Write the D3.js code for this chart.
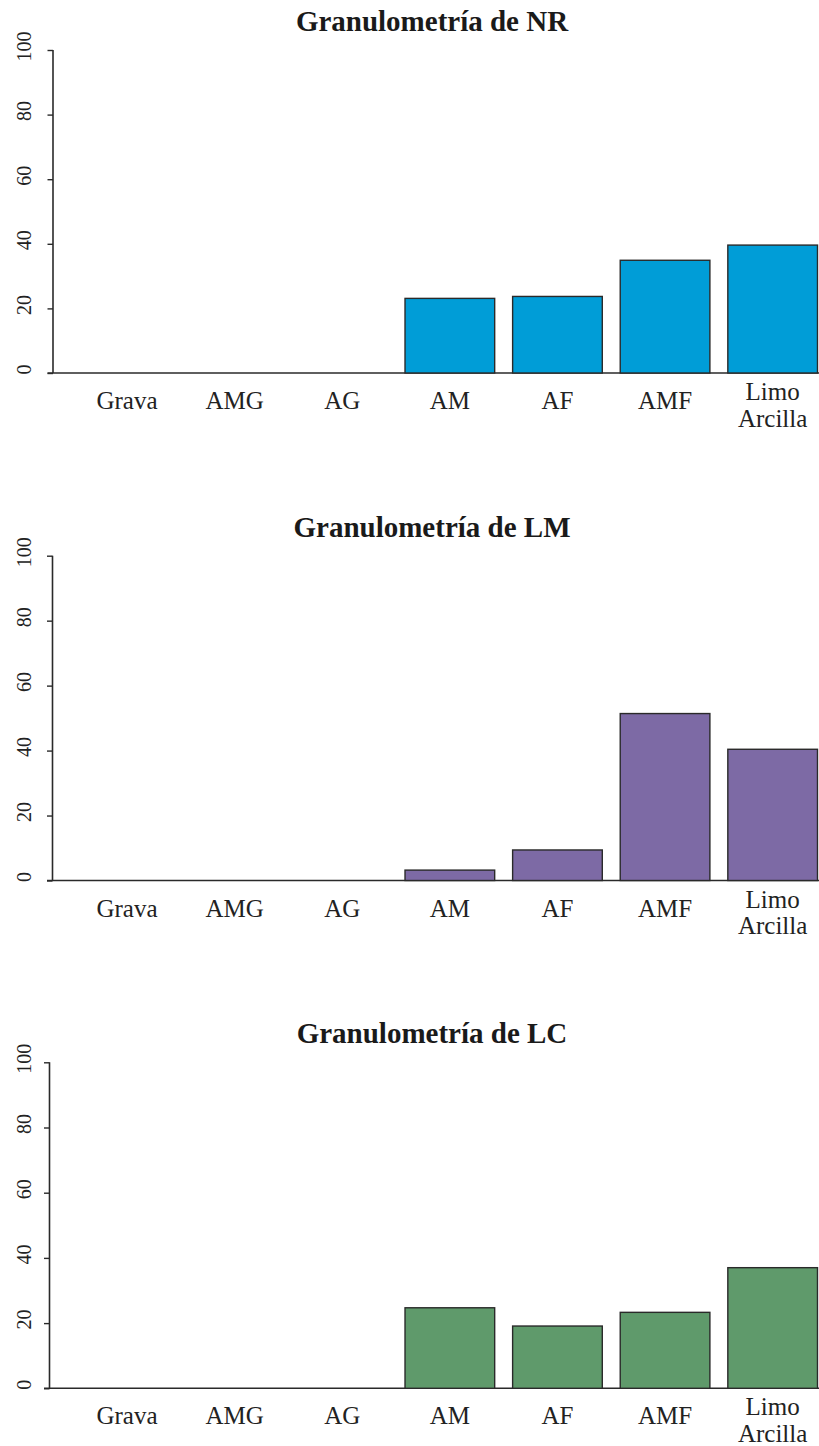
<!DOCTYPE html>
<html>
<head>
<meta charset="utf-8">
<script src="https://cdn.jsdelivr.net/npm/d3@7/dist/d3.min.js"></script>
<style>
  html, body { margin: 0; padding: 0; background: #ffffff; }
  svg { display: block; }
</style>
</head>
<body>
<svg id="chart" width="819" height="1446"></svg>
<script>
// Grain-size classes (two-line label for the last class)
const categories = ["Grava", "AMG", "AG", "AM", "AF", "AMF", "Limo\nArcilla"];
const yTicks = [0, 20, 40, 60, 80, 100];

// Percentages per sample
const valuesNR = [0, 0, 0, 23.1, 23.7, 34.9, 39.6];
const valuesLM = [0, 0, 0, 3.2, 9.4, 51.4, 40.4];
const valuesLC = [0, 0, 0, 24.7, 19.1, 23.3, 37.0];

const titles = ["Granulometría de NR", "Granulometría de LM", "Granulometría de LC"];
const fills = ["#009dd7", "#7d6aa5", "#5f9a6b"];

// Panel placement (vertical extent of the value axis, axis x position)
const panels = [
  { values: valuesNR, title: titles[0], fill: fills[0], top: 50,     bottom: 373,    axisX: 53 },
  { values: valuesLM, title: titles[1], fill: fills[1], top: 555.7,  bottom: 880.5,  axisX: 52.5 },
  { values: valuesLC, title: titles[2], fill: fills[2], top: 1062.3, bottom: 1388.3, axisX: 49.5 }
];

const svg = d3.select("#chart");
const serif = "'Liberation Serif', 'Times New Roman', Times, serif";
const ink = "#222";

const x = d3.scaleBand()
  .domain(categories)
  .range([82.2, 817.5])
  .paddingInner(0.2 / 1.2)
  .paddingOuter(0);

panels.forEach(p => {
  const g = svg.append("g");
  const y = d3.scaleLinear().domain([0, 100]).range([p.bottom, p.top]);

  // Title
  g.append("text")
    .attr("x", 432)
    .attr("y", y(100) - 19)
    .attr("text-anchor", "middle")
    .style("font-family", serif)
    .style("font-weight", "bold")
    .style("font-size", "29px")
    .style("fill", "#1a1a1a")
    .text(p.title);

  // Baseline across the plot
  g.append("line")
    .attr("x1", p.axisX - 5.5)
    .attr("x2", 819)
    .attr("y1", y(0))
    .attr("y2", y(0))
    .attr("stroke", "#2a2a2a")
    .attr("stroke-width", 1.6);

  // Bars
  g.selectAll("rect.bar")
    .data(categories.map((c, i) => ({ c, v: p.values[i] })))
    .join("rect")
    .attr("class", "bar")
    .attr("x", d => x(d.c))
    .attr("width", x.bandwidth())
    .attr("y", d => y(d.v))
    .attr("height", d => y(0) - y(d.v))
    .attr("fill", p.fill)
    .attr("stroke", "#2a2a2a")
    .attr("stroke-width", 1.4);

  // Value axis
  const axis = d3.axisLeft(y).tickValues(yTicks).tickSize(5.5).tickSizeOuter(0);
  const ag = g.append("g")
    .attr("transform", `translate(${p.axisX},0)`)
    .call(axis);
  ag.select(".domain")
    .attr("d", `M0,${y(0)}V${y(100)}`)
    .attr("stroke", "#2a2a2a")
    .attr("stroke-width", 1.6);
  ag.selectAll(".tick line").attr("stroke", "#2a2a2a").attr("stroke-width", 1.4);
  ag.selectAll(".tick text")
    .attr("x", null).attr("dy", null)
    .attr("transform", `translate(${31 - p.axisX},-4) rotate(-90)`)
    .attr("text-anchor", "middle")
    .style("font-family", serif)
    .style("font-size", "20px")
    .style("fill", ink);

  // Category labels
  const lab = g.selectAll("text.cat")
    .data(categories)
    .join("text")
    .attr("class", "cat")
    .attr("text-anchor", "middle")
    .style("font-family", serif)
    .style("font-size", "25px")
    .style("fill", ink);
  lab.each(function (c) {
    const lines = c.split("\n");
    const t = d3.select(this);
    const cx = x(c) + x.bandwidth() / 2;
    if (lines.length === 1) {
      t.append("tspan").attr("x", cx).attr("y", y(0) + 36).text(lines[0]);
    } else {
      lines.forEach((ln, k) => {
        t.append("tspan").attr("x", cx).attr("y", y(0) + 27 + k * 26.5).text(ln);
      });
    }
  });
});
</script>
</body>
</html>
